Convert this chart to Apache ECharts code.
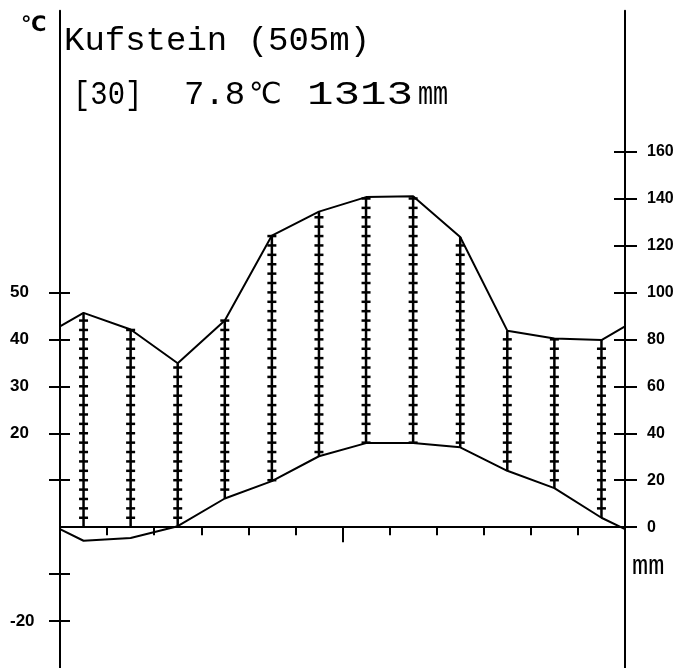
<!DOCTYPE html>
<html>
<head>
<meta charset="utf-8">
<script src="https://cdn.jsdelivr.net/npm/echarts@6/dist/echarts.min.js"></script>
<style>
html, body { margin: 0; padding: 0; background: #fff; }
#chart { width: 679px; height: 668px; }
</style>
</head>
<body>
<div id="chart"></div>
<script>
// monthly means, Jan..Dec
var months = ['J', 'F', 'M', 'A', 'M', 'J', 'J', 'A', 'S', 'O', 'N', 'D'];
var tempC = [-2.9, -2.3, 0.2, 6.1, 9.8, 15.1, 17.9, 17.9, 17.0, 12.0, 8.3, 2.0];
var precipMm = [91.3, 84.2, 69.8, 88.0, 124.2, 134.4, 140.6, 141.0, 123.6, 83.7, 80.4, 79.7];
// values where the curves meet the two axes (year wraps round)
var tempEdge = -0.4;
var precipEdge = 85.5;

var tempTicks = [-20, -10, 10, 20, 30, 40, 50];
var tempLabels = [-20, 20, 30, 40, 50];
var precipTicks = [0, 20, 40, 60, 80, 100, 120, 140, 160];
var monthTicks = [1, 2, 3, 4, 5, 7, 8, 9, 10, 11];
var midTick = [6];
var hatchStep = 4; // mm between the little bars on the columns

var station = 'Kufstein (505m)';
var years = '[30]';
var meanTemp = '7.8';
var sumPrecip = '1313';

var chart = echarts.init(document.getElementById('chart'));

var tempLine = [[0, tempEdge]];
var precipLine = [[0, precipEdge]];
var columns = [];
months.forEach(function (m, i) {
  tempLine.push([i + 0.5, tempC[i]]);
  precipLine.push([i + 0.5, precipMm[i]]);
  columns.push([i + 0.5, Math.max(tempC[i], 0) * 2, precipMm[i]]);
});
tempLine.push([12, tempEdge]);
precipLine.push([12, precipEdge]);

var black = '#000';

function yAx(pos, min, max, step, ticks, inside, len, labels, margin, fs) {
  return {
    type: 'value', position: pos, min: min, max: max, interval: step, offset: 0,
    axisLine: { show: !inside, onZero: false, lineStyle: { color: black, width: 2 } },
    axisTick: { show: true, inside: inside, length: len, customValues: ticks,
      lineStyle: { color: black, width: 2 } },
    axisLabel: labels ? { show: true, customValues: labels, margin: margin, color: black,
      fontFamily: 'Liberation Sans', fontWeight: 'bold', fontSize: fs } : { show: false },
    splitLine: { show: false }
  };
}

var left = yAx('left', -30, 110, 10, tempTicks, false, 11, tempLabels, 50, 17);
left.axisLabel.align = 'left';

function txt(s, x, y, size, fam, sx, bold) {
  return { type: 'text', x: x, y: y, scaleX: sx || 1, silent: true,
    style: { text: s, fontSize: size, fontFamily: fam, fontWeight: bold ? 'bold' : 'normal',
      fill: black, verticalAlign: 'top' } };
}

var option = {
  animation: false,
  backgroundColor: '#fff',
  grid: { left: 60, right: 54, top: 10.7, height: 661 },
  xAxis: [
    {
      type: 'value', position: 'bottom', min: 0, max: 12, interval: 1,
      axisLine: { show: true, onZero: true, onZeroAxisIndex: 0, lineStyle: { color: black, width: 2 } },
      axisTick: { show: true, length: 8, customValues: monthTicks, lineStyle: { color: black, width: 2 } },
      axisLabel: { show: false },
      splitLine: { show: false }
    },
    {
      type: 'value', position: 'bottom', min: 0, max: 12, interval: 1,
      axisLine: { show: false, onZero: true, onZeroAxisIndex: 0 },
      axisTick: { show: true, length: 15, customValues: midTick, lineStyle: { color: black, width: 2 } },
      axisLabel: { show: false },
      splitLine: { show: false }
    }
  ],
  yAxis: [
    left,
    yAx('left', -30, 110, 10, tempTicks, true, 10, null),
    yAx('right', -60, 220, 20, precipTicks, false, 12, precipTicks, 22, 16),
    yAx('right', -60, 220, 20, precipTicks, true, 11, null)
  ],
  graphic: [
    txt('℃', 21, 15, 21, 'DejaVu Sans', 1, true),
    txt(station, 64, 24, 34, 'Liberation Mono'),
    txt(years, 73, 78, 34, 'Liberation Mono', 0.85),
    txt(meanTemp, 184, 78, 34, 'Liberation Mono'),
    txt('℃', 249, 81, 29, 'DejaVu Sans'),
    txt(sumPrecip, 307, 78, 34, 'Liberation Mono', 1.3),
    txt('mm', 418, 78, 34, 'Liberation Mono', 0.74),
    txt('mm', 632, 553, 27, 'Liberation Mono')
  ],
  series: [
    {
      type: 'custom', xAxisIndex: 0, yAxisIndex: 2, data: columns, silent: true,
      renderItem: function (params, api) {
        var x = api.value(0), lo = api.value(1), hi = api.value(2);
        var p0 = api.coord([x, lo]), p1 = api.coord([x, hi]);
        var st = { stroke: black, lineWidth: 2.5 };
        var kids = [{ type: 'line', shape: { x1: p0[0], y1: p0[1], x2: p1[0], y2: p1[1] }, style: st }];
        for (var m = Math.floor(lo / hatchStep) * hatchStep + hatchStep; m <= hi; m += hatchStep) {
          var p = api.coord([x, m]);
          kids.push({ type: 'line', shape: { x1: p[0] - 4.5, y1: p[1], x2: p[0] + 4.5, y2: p[1] }, style: st });
        }
        return { type: 'group', children: kids };
      }
    },
    {
      type: 'line', xAxisIndex: 0, yAxisIndex: 0, data: tempLine, symbol: 'none', silent: true,
      lineStyle: { color: black, width: 2 },
      markLine: {
        silent: true, symbol: ['none', 'none'], label: { show: false },
        lineStyle: { color: black, width: 2, type: 'solid' },
        data: [[{ coord: [-0.21, 0] }, { coord: [12, 0] }]]
      }
    },
    {
      type: 'line', xAxisIndex: 0, yAxisIndex: 2, data: precipLine, symbol: 'none', silent: true,
      lineStyle: { color: black, width: 2 },
      markLine: {
        silent: true, symbol: ['none', 'none'], label: { show: false },
        lineStyle: { color: black, width: 2, type: [13, 7] },
        data: [[{ coord: [-0.26, 100] }, { coord: [12, 100] }]]
      }
    }
  ]
};

chart.setOption(option);
</script>
</body>
</html>
